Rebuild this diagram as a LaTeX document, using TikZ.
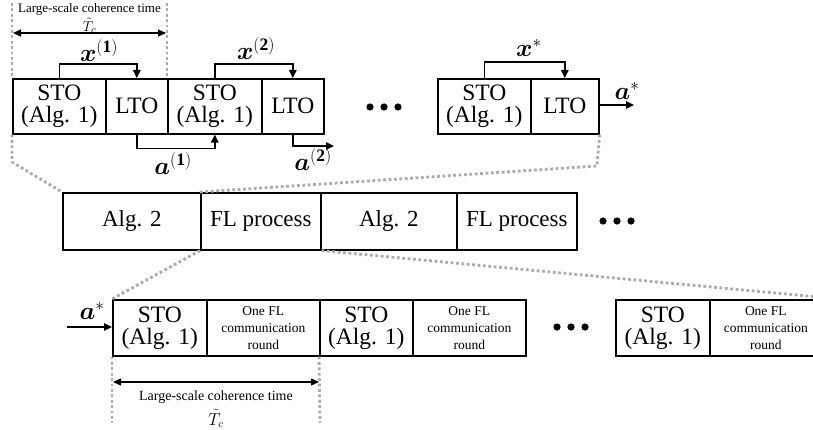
\documentclass[tikz,border=0pt]{standalone}
\usepackage{fontspec}
\setmainfont{Liberation Serif}
\usepackage{amsmath,bm}
\usetikzlibrary{arrows.meta,calc}

\begin{document}
\begin{tikzpicture}[x=1pt,y=-1pt,
  blk/.style={draw,line width=1.6pt,inner sep=0pt,anchor=north west,align=center,
    font=\fontsize{23.5}{22}\selectfont},
  toprow/.style={blk,minimum height=55pt},
  midrow/.style={blk,minimum height=57pt,font=\fontsize{23}{23}\selectfont},
  lowrow/.style={blk,minimum height=56pt},
  small/.style={font=\fontsize{13.5}{17}\selectfont,align=center},
  arr/.style={line width=1.6pt,-{Triangle[length=8pt,width=7.5pt]}},
  dbl/.style={line width=1.3pt,{Triangle[length=8pt,width=7pt]}-{Triangle[length=8pt,width=7pt]}},
  zoomline/.style={draw=black!33,line width=2.8pt,dash pattern=on 2.8pt off 2.6pt},
  lbl/.style={inner sep=0pt,font=\fontsize{25}{25}\selectfont},
  note/.style={inner sep=0pt,align=center},
]
\clip (0,0) rectangle (813,430);

% ---------- top row: STO / LTO pairs ----------
\node[toprow,minimum width=93pt] (s1) at (12,78) {STO\\(Alg. 1)};
\node[toprow,minimum width=62pt] (l1) at (105,78) {LTO};
\node[toprow,minimum width=94pt] (s2) at (167,78) {STO\\(Alg. 1)};
\node[toprow,minimum width=62pt] (l2) at (261,78) {LTO};
\node[toprow,minimum width=93pt] (s3) at (437,78) {STO\\(Alg. 1)};
\node[toprow,minimum width=68pt] (l3) at (530,78) {LTO};

\foreach \x in {370,384,398} \fill (\x,107) circle (3.6pt);

% x feedback brackets
\draw[arr] (s1.north) -- ++(0,-14) -| (l1.north);
\draw[arr] (s2.north) -- ++(0,-14) -| (l2.north);
\draw[arr] (s3.north) -- ++(0,-16) -| (l3.north);
\node[lbl] (x1) at (99,51) {$\bm{x}^{(\mathbf{1})}$};
\node[lbl] (x2) at (256,49) {$\bm{x}^{(\mathbf{2})}$};
\node[lbl] (xs) at (529,48) {$\bm{x}^{*}$};

% a outputs
\draw[arr] (l1.south) -- ++(0,14) -| (s2.south);
\coordinate (a2end) at (334,146);
\draw[arr] (l2.south) |- (a2end);
\node[lbl] (a1) at (173,164) {$\bm{a}^{(\mathbf{1})}$};
\node[lbl] (a2) at (313,160) {$\bm{a}^{(\mathbf{2})}$};
\coordinate (asend) at (634,105);
\draw[arr] (l3.east |- asend) -- (asend);
\node[lbl] (as) at (627,91) {$\bm{a}^{*}$};

% large-scale coherence time, top
\coordinate (t1) at (12,3);
\coordinate (t2) at (167,3);
\draw[zoomline] (t1) -- (s1.north west);
\draw[zoomline] (t2) -- (s2.north west);
\coordinate (ca1) at (13,33);
\coordinate (cb1) at (166,33);
\draw[dbl] (ca1) -- (cb1);
\node[note,font=\fontsize{13}{15}\selectfont] (coh1) at (89.5,9.5) {Large-scale coherence time};
\node[note,font=\fontsize{15}{15}\selectfont] (tc1) at (89.5,26) {$\tilde{T}_c$};

% ---------- middle row ----------
\node[midrow,minimum width=138pt] (m1) at (62,192) {Alg. 2};
\node[midrow,minimum width=120pt] (m2) at (200,192) {FL process};
\node[midrow,minimum width=136pt] (m3) at (320,192) {Alg. 2};
\node[midrow,minimum width=120pt] (m4) at (456,192) {FL process};
\foreach \x in {603,617,631} \fill (\x,221) circle (3.6pt);

% zoom lines between top and middle rows
\coordinate (zl) at (12,162);
\coordinate (zr) at (597,166);
\draw[zoomline] (s1.south west) -- (zl) -- (m1.north west);
\draw[zoomline] (l3.south east) -- (zr) -- (m2.north west);

% ---------- lower row ----------
\node[lowrow,minimum width=94pt] (b1) at (112,299) {STO\\(Alg. 1)};
\node[lowrow,minimum width=113pt,small] (c1) at (206,299) {One FL\\communication\\round};
\node[lowrow,minimum width=93pt] (b2) at (319,299) {STO\\(Alg. 1)};
\node[lowrow,minimum width=113pt,small] (c2) at (412,299) {One FL\\communication\\round};
\node[lowrow,minimum width=94pt] (b3) at (615,299) {STO\\(Alg. 1)};
\node[lowrow,minimum width=112pt,small] (c3) at (709,299) {One FL\\communication\\round};
\foreach \x in {557,571,585} \fill (\x,327) circle (3.6pt);

% zoom lines between middle and lower rows
\draw[zoomline] (m2.south west) -- (b1.north west);
\draw[zoomline] (m2.south east) -- ($(c3.north east)+(17,0)$);

% a* input
\coordinate (ain) at (67,327);
\draw[arr] (ain) -- (b1.west |- ain);
\node[lbl] (as2) at (92,311) {$\bm{a}^{*}$};

% large-scale coherence time, bottom
\coordinate (u1) at (112,423);
\coordinate (u2) at (320,423);
\draw[zoomline] (b1.south west) -- (u1);
\draw[zoomline] (b2.south west) -- (u2);
\coordinate (ca2) at (113,382);
\coordinate (cb2) at (319,382);
\draw[dbl] (ca2) -- (cb2);
\node[note,font=\fontsize{14}{16}\selectfont] (coh2) at (216,397.5) {Large-scale coherence time};
\node[note,font=\fontsize{16}{16}\selectfont] (tc2) at (216,418.5) {$\tilde{T}_c$};
\end{tikzpicture}
\end{document}
